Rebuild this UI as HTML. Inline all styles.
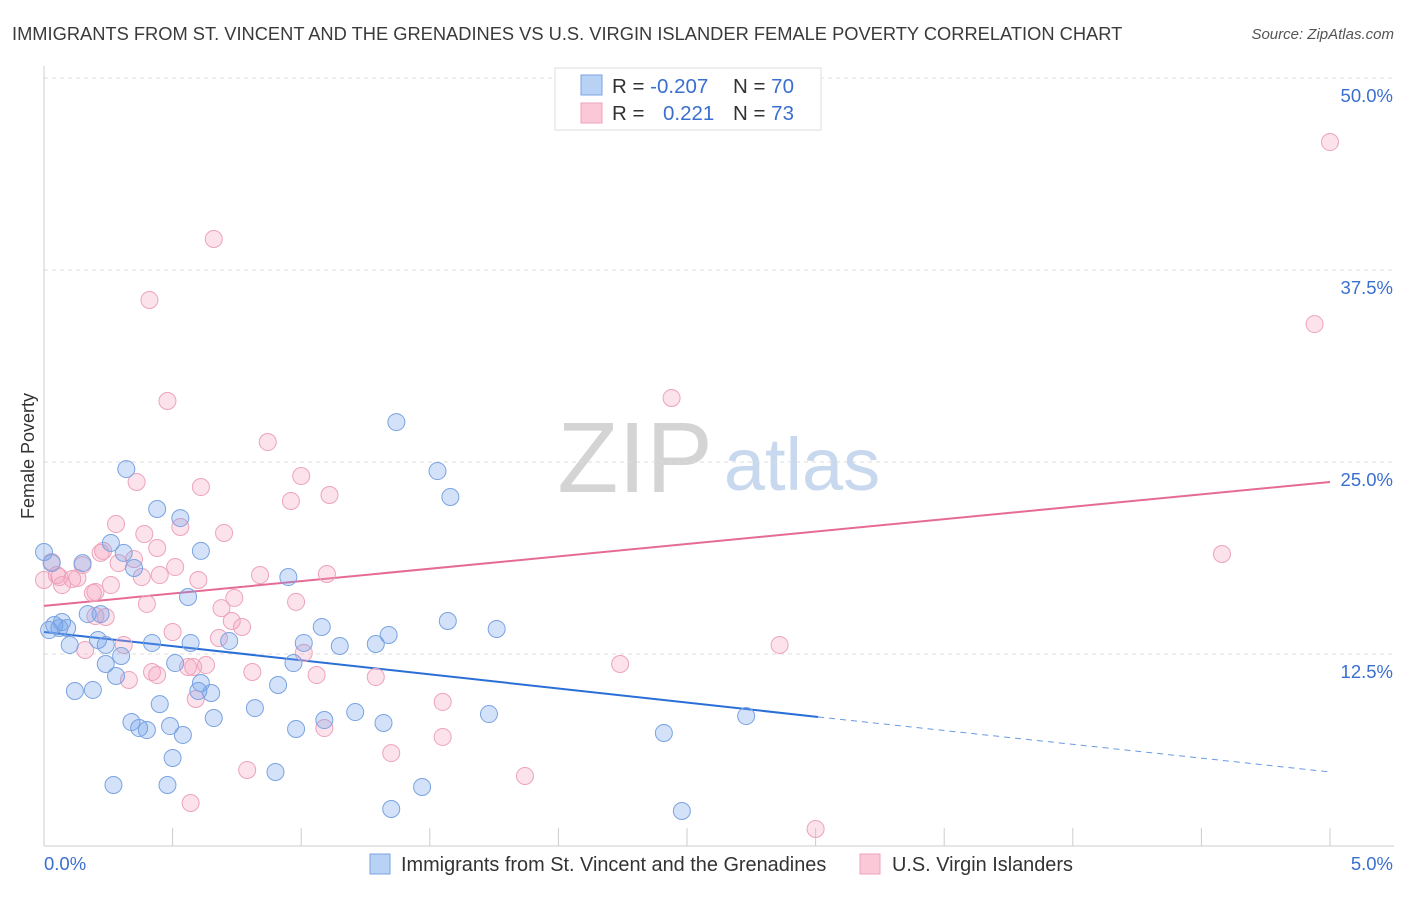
<!DOCTYPE html>
<html><head><meta charset="utf-8"><style>
body{margin:0;background:#fff;font-family:"Liberation Sans",sans-serif;}
svg text{font-family:"Liberation Sans",sans-serif;}
</style></head><body>
<svg id="chart" width="1406" height="892">
<text x="12" y="40" font-size="18.3" fill="#3a3a3a">IMMIGRANTS FROM ST. VINCENT AND THE GRENADINES VS U.S. VIRGIN ISLANDER FEMALE POVERTY CORRELATION CHART</text>
<text x="1394" y="39" font-size="15" fill="#555" font-style="italic" text-anchor="end">Source: ZipAtlas.com</text>
<text x="34" y="456" font-size="18" fill="#333" transform="rotate(-90 34 456)" text-anchor="middle">Female Poverty</text>
<g><text x="635" y="492" font-size="100" font-family="Liberation Serif" fill="#d4d4d4" text-anchor="middle">ZIP</text><text x="802" y="490" font-size="74" fill="#c8d8ee" text-anchor="middle">atlas</text></g>
<g id="grid"></g><g id="axes"></g><g id="trends"></g><g id="points"></g>
<g>
<rect x="555" y="68" width="266" height="62" fill="#fff" stroke="#ddd"/>
<rect x="581" y="75" width="21" height="20" fill="#b8d2f5" stroke="#7aa3e0"/>
<rect x="581" y="103" width="21" height="20" fill="#fbc8d8" stroke="#eda3bb"/>
<text x="612" y="93" font-size="20.5" fill="#333">R = <tspan fill="#3a6fd0">-0.207</tspan><tspan x="733">N = </tspan><tspan fill="#3a6fd0">70</tspan></text>
<text x="612" y="120" font-size="20.5" fill="#333">R = <tspan x="663" fill="#3a6fd0">0.221</tspan><tspan x="733">N = </tspan><tspan fill="#3a6fd0">73</tspan></text>
</g>
<g>
<rect x="370" y="854" width="20" height="20" fill="#b8d2f5" stroke="#7aa3e0"/>
<text x="401" y="871" font-size="19.9" fill="#333">Immigrants from St. Vincent and the Grenadines</text>
<rect x="860" y="854" width="20" height="20" fill="#fbc8d8" stroke="#eda3bb"/>
<text x="892" y="871" font-size="19.9" fill="#333">U.S. Virgin Islanders</text>
</g>
</svg>
<script>
const yTicks=[12.5,25,37.5,50];
const yTickLabels=["12.5%","25.0%","37.5%","50.0%"];
const xTicks=[0,0.5,1,1.5,2,2.5,3,3.5,4,4.5,5];
const blueX=[0.00,0.03,0.15,0.04,0.07,0.09,0.10,0.17,0.22,0.21,0.24,0.26,0.31,0.35,0.32,0.44,0.53,0.61,0.56,0.57,0.51,0.30,0.28,0.24,0.42,0.12,0.19,0.34,0.37,0.40,0.45,0.49,0.54,0.50,0.60,0.61,0.65,0.66,0.72,0.82,0.91,0.95,0.97,0.98,0.90,0.27,0.48,1.01,1.08,1.09,1.15,1.21,1.29,1.34,1.32,1.37,1.35,1.47,1.53,1.58,1.57,1.76,1.73,2.41,2.48,2.73,0.02,0.06];
const blueY=[19.14,18.42,18.42,14.39,14.58,14.19,13.09,15.10,15.10,13.41,13.09,19.73,19.08,18.10,24.54,21.94,21.35,19.21,16.21,13.22,11.91,12.37,11.07,11.85,13.22,10.09,10.16,8.07,7.68,7.55,9.24,7.81,7.23,5.73,10.09,10.61,9.96,8.33,13.35,8.98,10.48,17.51,11.91,7.62,4.82,3.97,3.97,13.22,14.26,8.20,13.02,8.72,13.15,13.74,8.01,27.60,2.41,3.84,24.41,22.72,14.65,14.13,8.59,7.36,2.28,8.46,14.06,14.19];
const pinkX=[0.00,0.03,0.06,0.05,0.07,0.11,0.13,0.15,0.19,0.20,0.22,0.23,0.24,0.26,0.28,0.29,0.35,0.36,0.38,0.39,0.41,0.40,0.44,0.45,0.48,0.50,0.51,0.53,0.42,0.44,0.58,0.60,0.61,0.63,0.66,0.68,0.69,0.70,0.73,0.74,0.77,0.59,0.57,0.79,0.81,0.84,0.87,0.96,0.98,1.00,1.01,1.06,1.09,1.10,1.11,1.29,1.35,1.55,1.55,1.87,2.24,2.44,2.86,3.00,4.58,4.94,5.00,0.33,0.16,0.20,0.31,0.56];
const pinkY=[17.32,18.49,17.51,17.64,16.99,17.38,17.45,18.29,16.47,16.54,19.08,19.21,14.91,16.99,20.96,18.42,18.68,23.70,17.51,20.31,35.55,15.76,19.40,17.64,28.97,13.93,18.16,20.77,11.33,11.13,11.65,17.32,23.37,11.78,39.52,13.54,15.49,20.38,14.65,16.15,14.26,9.57,2.80,4.95,11.33,17.64,26.30,22.46,15.89,24.09,12.57,11.13,7.68,17.71,22.85,11.00,6.05,9.38,7.10,4.56,11.85,29.17,13.09,1.11,19.01,33.98,45.83,10.81,12.76,14.97,13.09,11.65];
const blueTrend=[13.93,8.40,4.82]; const blueTrendX=[0,3.01,5];
const pinkTrend=[15.63,23.70]; const pinkTrendX=[0,5];

const NS="http://www.w3.org/2000/svg";
const X=v=>44+v/5*1286, Y=v=>846-v/50*768;
function mk(tag,attrs,parent){const e=document.createElementNS(NS,tag);for(const k in attrs)e.setAttribute(k,attrs[k]);document.getElementById(parent).appendChild(e);return e;}
yTicks.forEach((t,i)=>{
  const l=mk('line',{x1:44,x2:1394,y1:Y(t),y2:Y(t),stroke:'#ddd','stroke-dasharray':'4,4'},'grid');
  
  
  const tx=mk('text',{x:1393,y:Y(t)+24,'font-size':18.5,fill:'#3a6fd0','text-anchor':'end'},'grid');
  tx.textContent=yTickLabels[i];
  
  
});
const ax=mk('line',{x1:44,x2:1394,y1:846,y2:846,stroke:'#ccc'},'axes');


const ay=mk('line',{x1:44,x2:44,y1:66,y2:846,stroke:'#ccc'},'axes');


xTicks.forEach(t=>{
  const l=mk('line',{x1:X(t),x2:X(t),y1:828,y2:846,stroke:'#ccc'},'axes');
  
  
});
const x0=mk('text',{x:44,y:870,'font-size':18.5,fill:'#3a6fd0'},'axes');x0.textContent='0.0%';


const x1=mk('text',{x:1393,y:870,'font-size':18.5,fill:'#3a6fd0','text-anchor':'end'},'axes');x1.textContent='5.0%';



const bt1=mk('line',{x1:X(blueTrendX[0]),y1:Y(blueTrend[0]),x2:X(blueTrendX[1]),y2:Y(blueTrend[1]),stroke:'#2a6fd8','stroke-width':2},'trends');


const bt2=mk('line',{x1:X(blueTrendX[1]),y1:Y(blueTrend[1]),x2:X(blueTrendX[2]),y2:Y(blueTrend[2]),stroke:'#6a9ae0','stroke-width':1,'stroke-dasharray':'6,5'},'trends');


const pt=mk('line',{x1:X(pinkTrendX[0]),y1:Y(pinkTrend[0]),x2:X(pinkTrendX[1]),y2:Y(pinkTrend[1]),stroke:'#e56b96','stroke-width':2},'trends');



pinkX.forEach((v,i)=>{
  const c=mk('circle',{cx:X(v),cy:Y(pinkY[i]),r:8.5,fill:'rgba(245,160,190,0.3)',stroke:'#eda3bb','stroke-width':1},'points');
  
  
});
blueX.forEach((v,i)=>{
  const c=mk('circle',{cx:X(v),cy:Y(blueY[i]),r:8.5,fill:'rgba(110,160,235,0.3)',stroke:'#7aa3e0','stroke-width':1},'points');
  
  
});
</script>
</body></html>
